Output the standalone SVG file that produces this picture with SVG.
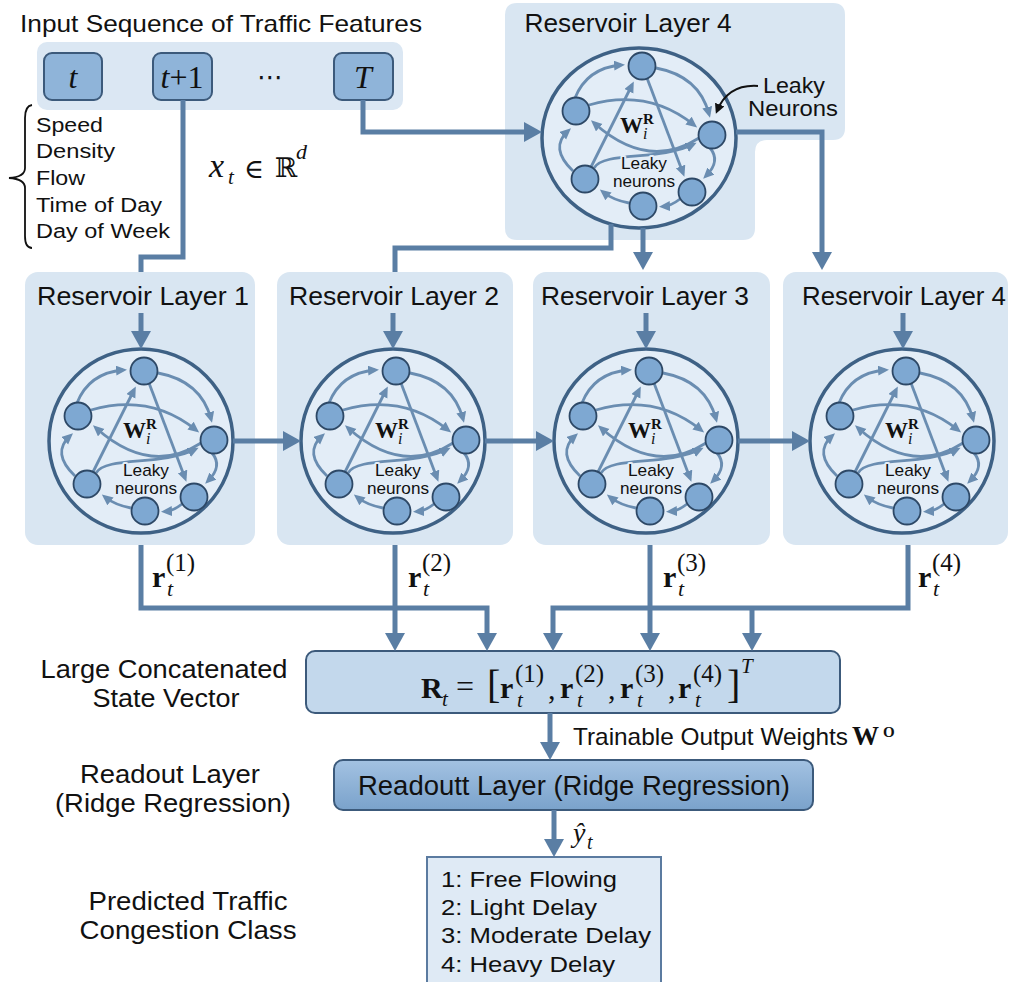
<svg xmlns="http://www.w3.org/2000/svg" width="1019" height="982" viewBox="0 0 1019 982">
<style>
.sans{font-family:"Liberation Sans",Arial,sans-serif;fill:#111}
.ser{font-family:"Liberation Serif","DejaVu Serif",serif;fill:#111}
.bi{font-weight:bold}
.it{font-style:italic}
.pn{fill:#d9e6f2}
.rc{fill:#e3edf7;stroke:#3e6185;stroke-width:3.5}
.ed{fill:none;stroke:#6a8db1;stroke-width:2.8;marker-end:url(#ah)}
.nd{fill:#7ea8d2;stroke:#2d4866;stroke-width:1.8}
.cn{fill:none;stroke:#5a7ea4;stroke-width:5}
.ar{marker-end:url(#AH)}
.box{stroke:#3c5a7b;stroke-width:2}
.mask{stroke:#e3edf7;stroke-width:4;paint-order:stroke;stroke-linejoin:round}
.ttl{font-size:25px}
.lk{font-size:17px}
</style>
<defs>
<marker id="AH" markerUnits="userSpaceOnUse" markerWidth="20" markerHeight="20" refX="8" refY="10" orient="auto"><path d="M0,0 L18,10 L0,20 z" fill="#5a7ea4"/></marker>
<marker id="ah" markerUnits="userSpaceOnUse" markerWidth="12" markerHeight="12" refX="7" refY="5" orient="auto"><path d="M0,0 L11,5 L0,10 z" fill="#6a8db1"/></marker>
<marker id="bk" markerUnits="userSpaceOnUse" markerWidth="12" markerHeight="12" refX="7" refY="5" orient="auto"><path d="M0,0 L10,5 L0,10 z" fill="#111"/></marker>
<linearGradient id="rg" x1="0" y1="0" x2="0" y2="1"><stop offset="0" stop-color="#a3c2e2"/><stop offset="1" stop-color="#7aa2cb"/></linearGradient>
<g id="net">
<path class="ed" d="M -64 -38 Q -52 -68 -18 -71"/>
<path class="ed" d="M 17 -68 Q 60 -60 70 -22"/>
<path class="ed" d="M -50 -31 Q 9 -48 55 -11"/>
<path class="ed" d="M 60 2 Q 9 35 -45 -13"/>
<path class="ed" d="M -48 31 L -7 -51"/>
<path class="ed" d="M 8 -58 L 44 37"/>
<path class="ed" d="M -66 35 Q -90 12 -71 -5"/>
<path class="ed" d="M 71 12 Q 82 25 67 40"/>
<path class="ed" d="M 41 63 Q 32 70 24 70.5"/>
<path class="ed" d="M -10 67 Q -26 64 -36 56"/>
<path class="ed" d="M -45 32 C -35 15 20 25 54 8.5"/>
<circle class="nd" cx="3" cy="-70" r="13.5"/>
<circle class="nd" cx="-63" cy="-25" r="13.5"/>
<circle class="nd" cx="73" cy="-1" r="13.5"/>
<circle class="nd" cx="-54" cy="43" r="13.5"/>
<circle class="nd" cx="4" cy="70" r="13.5"/>
<circle class="nd" cx="53" cy="56" r="13.5"/>
</g>
</defs>

<g id="input-sequence">
<text class="sans" x="20" y="32" font-size="24" textLength="402" lengthAdjust="spacingAndGlyphs">Input Sequence of Traffic Features</text>
<rect x="37" y="42" width="366" height="68" rx="10" fill="#dbe7f3"/>
<rect class="box" x="44" y="53" width="58" height="47" rx="8" fill="#8fb4d9"/>
<text class="ser it" x="73" y="88" font-size="32" text-anchor="middle">t</text>
<rect class="box" x="153" y="53" width="59" height="47" rx="8" fill="#8fb4d9"/>
<text class="ser" x="182" y="88" font-size="32" text-anchor="middle"><tspan font-style="italic">t</tspan>+1</text>
<text x="270" y="86" font-size="26" text-anchor="middle" font-family="'DejaVu Sans',sans-serif" fill="#111">⋯</text>
<rect class="box" x="334" y="53" width="59" height="47" rx="8" fill="#8fb4d9"/>
<text class="ser it" x="363" y="88" font-size="32" text-anchor="middle">T</text>
</g>

<g id="features">
<path d="M 32 105 Q 25 106 25 118 V 168 Q 25 177 9 178 Q 25 179 25 188 V 236 Q 25 248 32 248" fill="none" stroke="#111" stroke-width="1.8"/>
<text class="sans" x="36" y="132" font-size="20" textLength="67" lengthAdjust="spacingAndGlyphs">Speed</text>
<text class="sans" x="36" y="158" font-size="20" textLength="79" lengthAdjust="spacingAndGlyphs">Density</text>
<text class="sans" x="36" y="185" font-size="20" textLength="49" lengthAdjust="spacingAndGlyphs">Flow</text>
<text class="sans" x="36" y="212" font-size="20" textLength="126" lengthAdjust="spacingAndGlyphs">Time of Day</text>
<text class="sans" x="36" y="238" font-size="20" textLength="134" lengthAdjust="spacingAndGlyphs">Day of Week</text>
</g>

<g id="input-vector">
<text class="ser it" x="209" y="177" font-size="34">x</text>
<text class="ser it" x="228" y="184" font-size="21">t</text>
<text x="244" y="178" font-size="27" font-family="'DejaVu Serif',serif" fill="#111">∈</text>
<text x="275" y="177" font-size="27" font-family="'DejaVu Serif',serif" fill="#111">ℝ</text>
<text class="ser it" x="296" y="159" font-size="22">d</text>
</g>

<g id="reservoir-top">
<path class="pn" d="M 517 3 H 833 Q 845 3 845 15 V 128 Q 845 140 833 140 H 767 Q 755 140 755 152 V 228 Q 755 240 743 240 H 517 Q 505 240 505 228 V 15 Q 505 3 517 3 Z"/>
<text class="sans ttl" x="628" y="32" text-anchor="middle" textLength="207" lengthAdjust="spacingAndGlyphs">Reservoir Layer 4</text>
<ellipse class="rc" cx="639" cy="138" rx="97" ry="90"/>
<use href="#net" transform="translate(639,136)"/>
<text class="ser bi" x="620" y="133" font-size="23">W</text>
<text class="ser bi" x="643" y="124" font-size="15">R</text>
<text class="ser it" x="643" y="139" font-size="16">i</text>
<text class="sans mask lk" x="644" y="169" text-anchor="middle" textLength="46" lengthAdjust="spacingAndGlyphs">Leaky</text>
<text class="sans mask lk" x="644" y="187" text-anchor="middle" textLength="62" lengthAdjust="spacingAndGlyphs">neurons</text>
<text class="sans" x="794" y="93" font-size="22" text-anchor="middle" textLength="62" lengthAdjust="spacingAndGlyphs">Leaky</text>
<text class="sans" x="793" y="116" font-size="22" text-anchor="middle" textLength="90" lengthAdjust="spacingAndGlyphs">Neurons</text>
<path d="M 758 86 Q 728 84 717 111" fill="none" stroke="#111" stroke-width="2" marker-end="url(#bk)"/>
</g>

<g id="reservoir-1">
<rect class="pn" x="25" y="272" width="230" height="273" rx="13"/>
<text class="sans ttl" x="143" y="305" text-anchor="middle" textLength="212" lengthAdjust="spacingAndGlyphs">Reservoir Layer 1</text>
<circle class="rc" cx="141" cy="441" r="92"/>
<use href="#net" transform="translate(141,441)"/>
<text class="ser bi" x="123" y="438" font-size="23">W</text>
<text class="ser bi" x="146" y="429" font-size="15">R</text>
<text class="ser it" x="146" y="444" font-size="16">i</text>
<text class="sans mask lk" x="146" y="476" text-anchor="middle" textLength="46" lengthAdjust="spacingAndGlyphs">Leaky</text>
<text class="sans mask lk" x="146" y="494" text-anchor="middle" textLength="62" lengthAdjust="spacingAndGlyphs">neurons</text>
</g>

<g id="reservoir-2">
<rect class="pn" x="277" y="272" width="236" height="273" rx="13"/>
<text class="sans ttl" x="394" y="305" text-anchor="middle" textLength="210" lengthAdjust="spacingAndGlyphs">Reservoir Layer 2</text>
<circle class="rc" cx="393" cy="441" r="92"/>
<use href="#net" transform="translate(393,441)"/>
<text class="ser bi" x="375" y="438" font-size="23">W</text>
<text class="ser bi" x="398" y="429" font-size="15">R</text>
<text class="ser it" x="398" y="444" font-size="16">i</text>
<text class="sans mask lk" x="398" y="476" text-anchor="middle" textLength="46" lengthAdjust="spacingAndGlyphs">Leaky</text>
<text class="sans mask lk" x="398" y="494" text-anchor="middle" textLength="62" lengthAdjust="spacingAndGlyphs">neurons</text>
</g>

<g id="reservoir-3">
<rect class="pn" x="533" y="272" width="237" height="273" rx="13"/>
<text class="sans ttl" x="645" y="305" text-anchor="middle" textLength="208" lengthAdjust="spacingAndGlyphs">Reservoir Layer 3</text>
<circle class="rc" cx="646" cy="441" r="92"/>
<use href="#net" transform="translate(646,441)"/>
<text class="ser bi" x="628" y="438" font-size="23">W</text>
<text class="ser bi" x="651" y="429" font-size="15">R</text>
<text class="ser it" x="651" y="444" font-size="16">i</text>
<text class="sans mask lk" x="651" y="476" text-anchor="middle" textLength="46" lengthAdjust="spacingAndGlyphs">Leaky</text>
<text class="sans mask lk" x="651" y="494" text-anchor="middle" textLength="62" lengthAdjust="spacingAndGlyphs">neurons</text>
</g>

<g id="reservoir-4">
<rect class="pn" x="783" y="272" width="225" height="273" rx="13"/>
<text class="sans ttl" x="904" y="305" text-anchor="middle" textLength="204" lengthAdjust="spacingAndGlyphs">Reservoir Layer 4</text>
<circle class="rc" cx="902" cy="441" r="92"/>
<use href="#net" transform="translate(903,441)"/>
<text class="ser bi" x="885" y="438" font-size="23">W</text>
<text class="ser bi" x="908" y="429" font-size="15">R</text>
<text class="ser it" x="908" y="444" font-size="16">i</text>
<text class="sans mask lk" x="908" y="476" text-anchor="middle" textLength="46" lengthAdjust="spacingAndGlyphs">Leaky</text>
<text class="sans mask lk" x="908" y="494" text-anchor="middle" textLength="62" lengthAdjust="spacingAndGlyphs">neurons</text>
</g>

<g id="state-labels">
<text class="ser bi" x="152" y="587" font-size="30">r</text>
<text class="ser" x="166" y="571" font-size="25">(1)</text>
<text class="ser it" x="167" y="596" font-size="22">t</text>
<text class="ser bi" x="408" y="587" font-size="30">r</text>
<text class="ser" x="422" y="571" font-size="25">(2)</text>
<text class="ser it" x="423" y="596" font-size="22">t</text>
<text class="ser bi" x="663" y="587" font-size="30">r</text>
<text class="ser" x="677" y="571" font-size="25">(3)</text>
<text class="ser it" x="678" y="596" font-size="22">t</text>
<text class="ser bi" x="918" y="587" font-size="30">r</text>
<text class="ser" x="932" y="571" font-size="25">(4)</text>
<text class="ser it" x="933" y="596" font-size="22">t</text>
</g>

<g id="concat-label">
<text class="sans" x="164" y="678" font-size="25" text-anchor="middle" textLength="247" lengthAdjust="spacingAndGlyphs">Large Concatenated</text>
<text class="sans" x="166" y="707" font-size="25" text-anchor="middle" textLength="147" lengthAdjust="spacingAndGlyphs">State Vector</text>
</g>

<g id="concat">
<rect class="box" x="306" y="651" width="534" height="62" rx="9" fill="#c3d8ec"/>
<text class="ser bi" x="421" y="698" font-size="30">R</text>
<text class="ser it" x="442" y="706" font-size="21">t</text>
<text class="ser" x="456" y="697" font-size="32">=</text>
<text class="ser" x="487" y="698" font-size="40">[</text>
<text class="ser bi" x="500" y="698" font-size="30">r</text>
<text class="ser" x="515" y="682" font-size="25">(1)</text>
<text class="ser it" x="517" y="707" font-size="21">t</text>
<text class="ser" x="548" y="699" font-size="30">,</text>
<text class="ser bi" x="560" y="698" font-size="30">r</text>
<text class="ser" x="575" y="682" font-size="25">(2)</text>
<text class="ser it" x="577" y="707" font-size="21">t</text>
<text class="ser" x="608" y="699" font-size="30">,</text>
<text class="ser bi" x="620" y="698" font-size="30">r</text>
<text class="ser" x="635" y="682" font-size="25">(3)</text>
<text class="ser it" x="637" y="707" font-size="21">t</text>
<text class="ser" x="668" y="699" font-size="30">,</text>
<text class="ser bi" x="678" y="698" font-size="30">r</text>
<text class="ser" x="693" y="682" font-size="25">(4)</text>
<text class="ser it" x="695" y="707" font-size="21">t</text>
<text class="ser" x="727" y="698" font-size="40">]</text>
<text class="ser it" x="741" y="673" font-size="21">T</text>
</g>

<g id="weights-label">
<text class="sans" x="573" y="745" font-size="24" textLength="275" lengthAdjust="spacingAndGlyphs">Trainable Output Weights</text>
<text class="ser bi" x="852" y="745" font-size="27">W</text>
<text class="ser bi" x="883" y="737" font-size="15">O</text>
</g>

<g id="readout-label">
<text class="sans" x="170" y="783" font-size="25" text-anchor="middle" textLength="180" lengthAdjust="spacingAndGlyphs">Readout Layer</text>
<text class="sans" x="173" y="812" font-size="25" text-anchor="middle" textLength="236" lengthAdjust="spacingAndGlyphs">(Ridge Regression)</text>
</g>

<g id="readout">
<rect class="box" x="334" y="760" width="479" height="50" rx="9" fill="url(#rg)" stroke-width="2.5"/>
<text class="sans" x="574" y="795" font-size="27" text-anchor="middle" textLength="432" lengthAdjust="spacingAndGlyphs">Readoutt Layer (Ridge Regression)</text>
</g>

<g id="output-label">
<text class="ser it" x="573" y="842" font-size="28">ŷ</text>
<text class="ser it" x="587" y="849" font-size="20">t</text>
</g>

<g id="class-label">
<text class="sans" x="188" y="910" font-size="25" text-anchor="middle" textLength="199" lengthAdjust="spacingAndGlyphs">Predicted Traffic</text>
<text class="sans" x="188" y="939" font-size="25" text-anchor="middle" textLength="217" lengthAdjust="spacingAndGlyphs">Congestion Class</text>
</g>

<g id="classes">
<rect x="427" y="857" width="234" height="140" fill="#dfeaf5" stroke="#5b7ba0" stroke-width="2"/>
<text class="sans" x="441" y="887" font-size="22" textLength="176" lengthAdjust="spacingAndGlyphs">1: Free Flowing</text>
<text class="sans" x="441" y="915" font-size="22" textLength="156" lengthAdjust="spacingAndGlyphs">2: Light Delay</text>
<text class="sans" x="441" y="943" font-size="22" textLength="210" lengthAdjust="spacingAndGlyphs">3: Moderate Delay</text>
<text class="sans" x="441" y="972" font-size="22" textLength="174" lengthAdjust="spacingAndGlyphs">4: Heavy Delay</text>
</g>

<g id="connectors">
<path class="cn" d="M 183 100 V 257 H 141 V 272"/>
<path class="cn ar" d="M 363 100 V 132 H 532"/>
<path class="cn ar" d="M 736 132 H 822 V 260"/>
<path class="cn" d="M 611 224 V 248 H 395 V 272"/>
<path class="cn ar" d="M 643 228 V 260"/>
<path class="cn ar" d="M 141 313 V 339"/>
<path class="cn ar" d="M 393 313 V 339"/>
<path class="cn ar" d="M 646 313 V 339"/>
<path class="cn ar" d="M 903 313 V 339"/>
<path class="cn ar" d="M 233 441 H 291"/>
<path class="cn ar" d="M 485 441 H 544"/>
<path class="cn ar" d="M 738 441 H 800"/>
<path class="cn ar" d="M 141 545 V 608 H 487 V 641"/>
<path class="cn ar" d="M 395 545 V 641"/>
<path class="cn ar" d="M 650 545 V 641"/>
<path class="cn ar" d="M 908 545 V 608 H 553 V 641"/>
<path class="cn ar" d="M 752 608 V 641"/>
<path class="cn ar" d="M 550 713 V 750"/>
<path class="cn ar" d="M 554 810 V 847"/>
</g>
</svg>
